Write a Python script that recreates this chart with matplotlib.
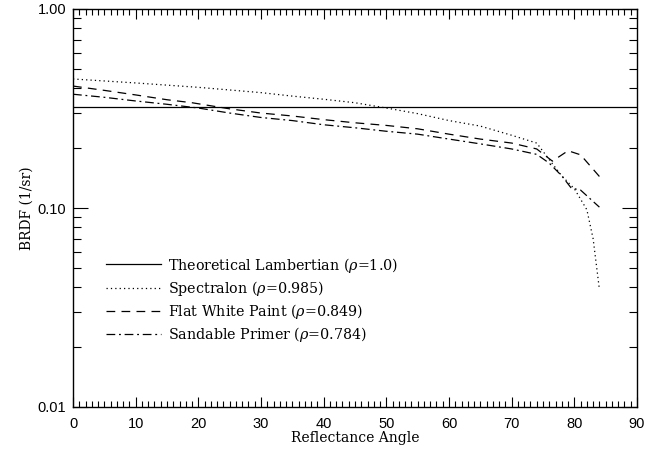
import matplotlib
matplotlib.use("Agg")
import matplotlib.pyplot as plt
from matplotlib.ticker import FixedLocator, MultipleLocator, LogLocator, NullFormatter, FixedFormatter

# Data
lamb_x = [0, 90]
lamb_y = [0.322, 0.322]

spec_x = [0, 10, 20, 30, 35, 40, 45, 50, 55, 60, 65, 70, 74, 76, 78, 80, 82, 83, 84]
spec_y = [0.445, 0.425, 0.404, 0.380, 0.365, 0.352, 0.338, 0.318, 0.298, 0.275, 0.258, 0.232, 0.212,
          0.175, 0.145, 0.125, 0.098, 0.070, 0.039]

paint_x = [0, 5, 10, 15, 19, 25, 30, 35, 40, 45, 50, 55, 60, 65, 70, 74, 76.5, 79, 81, 84]
paint_y = [0.410, 0.390, 0.370, 0.350, 0.338, 0.315, 0.300, 0.290, 0.278, 0.268, 0.260, 0.250,
           0.235, 0.222, 0.212, 0.198, 0.172, 0.194, 0.185, 0.144]

primer_x = [0, 5, 10, 15, 20, 25, 30, 35, 40, 45, 50, 55, 60, 65, 70, 74, 76, 78, 79.5, 81, 84]
primer_y = [0.373, 0.360, 0.345, 0.332, 0.318, 0.300, 0.285, 0.275, 0.262, 0.253, 0.243, 0.235,
            0.222, 0.210, 0.198, 0.186, 0.168, 0.145, 0.126, 0.123, 0.101]

labels = [r"Theoretical Lambertian ($\rho$=1.0)",
          r"Spectralon ($\rho$=0.985)",
          r"Flat White Paint ($\rho$=0.849)",
          r"Sandable Primer ($\rho$=0.784)"]

xticks = [0, 10, 20, 30, 40, 50, 60, 70, 80, 90]
yticks = [0.01, 0.1, 1.0]
ytick_labels = ["0.01", "0.10", "1.00"]

serif = "DejaVu Serif"
sans = "Liberation Sans"
plt.rcParams["mathtext.fontset"] = "dejavuserif"

fig = plt.figure(figsize=(6.57, 4.49), dpi=100)
ax = fig.add_axes([73/657, 1 - 407/449, (637-73)/657, (407-9)/449])

lw = 0.9
ax.plot(lamb_x, lamb_y, color="black", lw=lw, ls="-", label=labels[0])
ax.plot(spec_x, spec_y, color="black", lw=lw, ls=(0, (1, 2.5)), label=labels[1])
ax.plot(paint_x, paint_y, color="black", lw=lw, ls=(0, (7, 5)), label=labels[2])
ax.plot(primer_x, primer_y, color="black", lw=lw, ls=(0, (7, 3, 1.5, 3)), label=labels[3])

ax.set_yscale("log")
ax.set_xlim(0, 90)
ax.set_ylim(0.01, 1.0)

ax.xaxis.set_major_locator(FixedLocator(xticks))
ax.xaxis.set_minor_locator(MultipleLocator(1))
ax.yaxis.set_major_locator(FixedLocator(yticks))
ax.yaxis.set_major_formatter(FixedFormatter(ytick_labels))
ax.yaxis.set_minor_locator(LogLocator(base=10, subs=range(2, 10)))
ax.yaxis.set_minor_formatter(NullFormatter())

ax.tick_params(axis="both", which="both", direction="in", top=True, right=True, width=0.8)
ax.tick_params(axis="x", which="major", length=7)
ax.tick_params(axis="x", which="minor", length=4)
ax.tick_params(axis="y", which="major", length=11)
ax.tick_params(axis="y", which="minor", length=6)
ax.tick_params(axis="x", which="major", labelsize=10.5, pad=7)
ax.tick_params(axis="y", which="major", labelsize=10.5, pad=5)
for lab in ax.get_xticklabels() + ax.get_yticklabels():
    lab.set_fontfamily(sans)
for s in ax.spines.values():
    s.set_linewidth(1.0)

ax.set_xlabel("Reflectance Angle", fontfamily=serif, fontsize=10, labelpad=0)
ax.set_ylabel("BRDF (1/sr)", fontfamily=serif, fontsize=10, labelpad=3)

leg = ax.legend(loc="upper left", bbox_to_anchor=(0.035, 0.413), frameon=False,
                handlelength=3.9, handletextpad=0.45, labelspacing=0.3,
                prop={"family": serif, "size": 10.3})

fig.savefig("out.png", dpi=100)
